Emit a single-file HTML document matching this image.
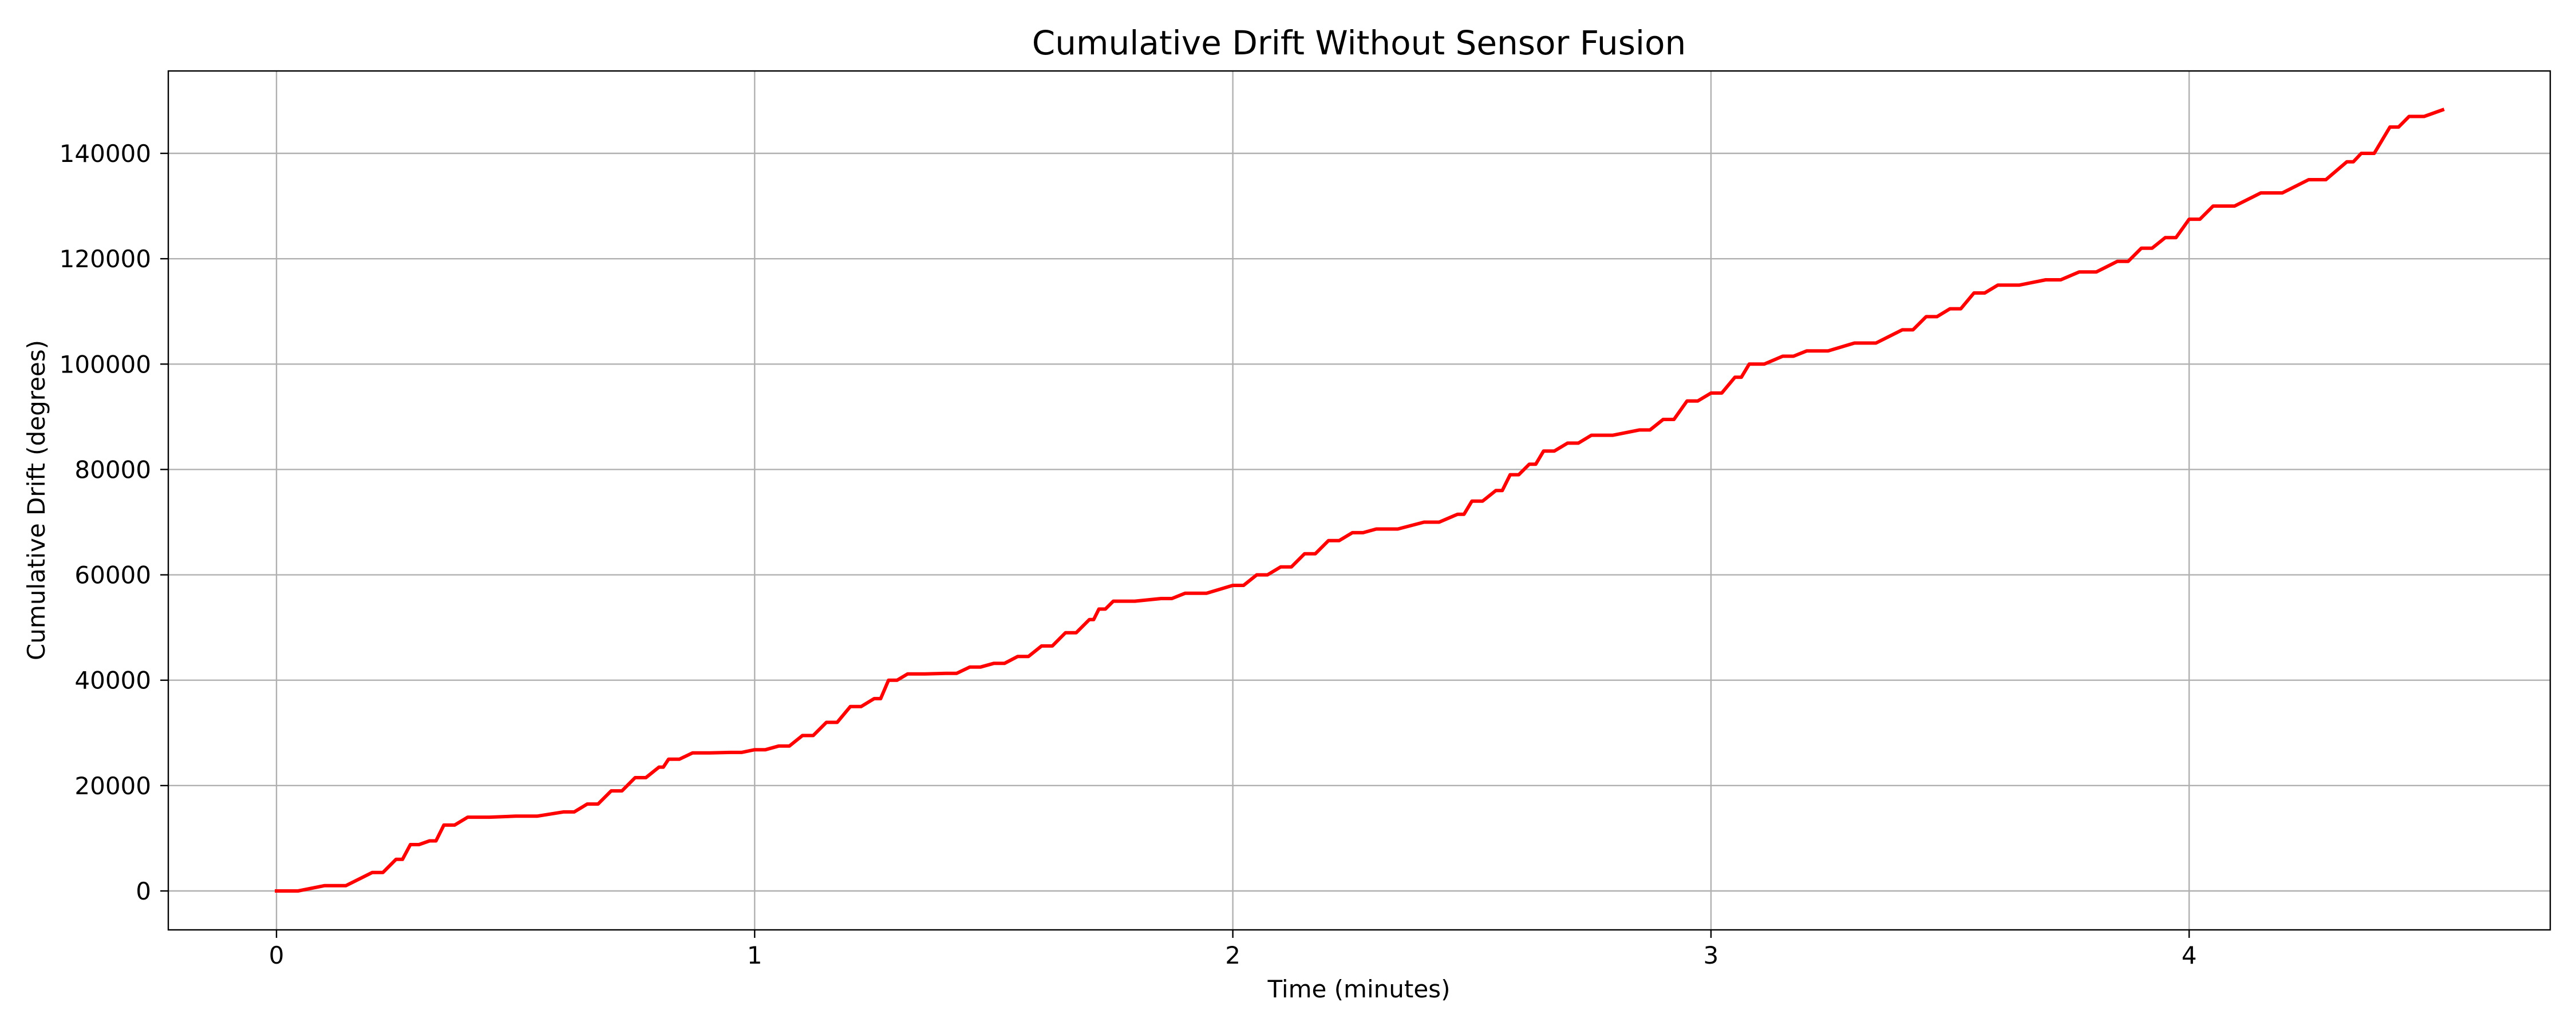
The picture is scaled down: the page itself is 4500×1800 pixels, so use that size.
<!DOCTYPE html>
<html><head><meta charset="utf-8"><style>
html,body{margin:0;padding:0;background:#fff}
svg{display:block;font-family:"DejaVu Sans","Liberation Sans",sans-serif}
</style></head><body>
<svg id="chart" width="4500" height="1800" viewBox="0 0 4500 1800">
<text x="2374" y="95" font-size="58" text-anchor="middle">Cumulative Drift Without Sensor Fusion</text>
<g id="grid"></g><g id="series"></g><g id="axes"></g>
<text x="2374" y="1743" font-size="42" text-anchor="middle">Time (minutes)</text>
<text transform="translate(78,874) rotate(-90)" font-size="42" text-anchor="middle">Cumulative Drift (degrees)</text>
</svg>
<script>
const times=[0,0.1,0.2,0.25,0.28,0.32,0.35,0.4,0.5,0.6,0.65,0.7,0.75,0.8,0.82,0.87,0.95,1.0,1.05,1.1,1.15,1.2,1.25,1.28,1.32,1.4,1.45,1.5,1.55,1.6,1.65,1.7,1.72,1.75,1.85,1.9,2.0,2.05,2.1,2.15,2.2,2.25,2.3,2.4,2.47,2.5,2.55,2.58,2.62,2.65,2.7,2.75,2.85,2.9,2.95,3.0,3.05,3.08,3.15,3.2,3.3,3.4,3.45,3.5,3.55,3.6,3.7,3.77,3.85,3.9,3.95,4.0,4.05,4.15,4.25,4.33,4.36,4.42,4.46,4.53];
const drift=[0,1000,3500,6000,8800,9500,12500,14000,14200,15000,16500,19000,21500,23500,25000,26200,26300,26800,27500,29500,32000,35000,36500,40000,41200,41300,42500,43200,44500,46500,49000,51500,53500,55000,55500,56500,58000,60000,61500,64000,66500,68000,68700,70000,71500,74000,76000,79000,81000,83500,85000,86500,87500,89500,93000,94500,97500,100000,101500,102500,104000,106500,109000,110500,113500,115000,116000,117500,119500,122000,124000,127500,130000,132500,135000,138400,140000,145000,147000,148250];
const xTicks=[0,1,2,3,4];
const yTicks=[0,20000,40000,60000,80000,100000,120000,140000];
const L=294,R=4455,T=124,B=1625;
const xs=v=>483+v*835.3;
const ys=v=>1557-v*(1557-268)/140000;
const NS="http://www.w3.org/2000/svg";
function mk(tag,attrs,parent,txt){const e=document.createElementNS(NS,tag);for(const k in attrs)e.setAttribute(k,attrs[k]);if(txt!==undefined)e.textContent=txt;parent.appendChild(e);return e;}
const grid=document.getElementById('grid'),axes=document.getElementById('axes'),ser=document.getElementById('series');
xTicks.forEach(t=>{
  const g=mk('line',{x1:xs(t),x2:xs(t),y1:T,y2:B,stroke:'#b0b0b0','stroke-width':2.4},grid);
  
  
  const tk=mk('line',{x1:xs(t),x2:xs(t),y1:B,y2:B+14,stroke:'#000','stroke-width':2.4},axes);
  
  
  const lb=mk('text',{x:xs(t),y:1684,'font-size':42,'text-anchor':'middle'},axes,String(t));
  
  
});
yTicks.forEach(t=>{
  const g=mk('line',{x1:L,x2:R,y1:ys(t),y2:ys(t),stroke:'#b0b0b0','stroke-width':2.4},grid);
  
  
  const tk=mk('line',{x1:L-14,x2:L,y1:ys(t),y2:ys(t),stroke:'#000','stroke-width':2.4},axes);
  
  
  const lb=mk('text',{x:264,y:ys(t)+15,'font-size':42,'text-anchor':'end'},axes,String(t));
  
  
});
const fr=mk('rect',{x:L,y:T,width:R-L,height:B-T,fill:'none',stroke:'#000','stroke-width':2.4},axes);


const p=[[xs(times[0]),ys(drift[0])]];
for(let i=1;i<times.length;i++){
  const x0=xs(times[i-1]),x1=xs(times[i]);
  const xr=x1-(x1-x0)*0.55;
  p.push([xr,ys(drift[i-1])]);
  p.push([x1,ys(drift[i])]);
}
const pts=p.map(q=>q[0].toFixed(1)+','+q[1].toFixed(1)).join(' ');
const pl=mk('polyline',{points:pts,fill:'none',stroke:'#ff0000','stroke-width':6,'stroke-linejoin':'round','stroke-linecap':'square'},ser);


</script>
</body></html>
